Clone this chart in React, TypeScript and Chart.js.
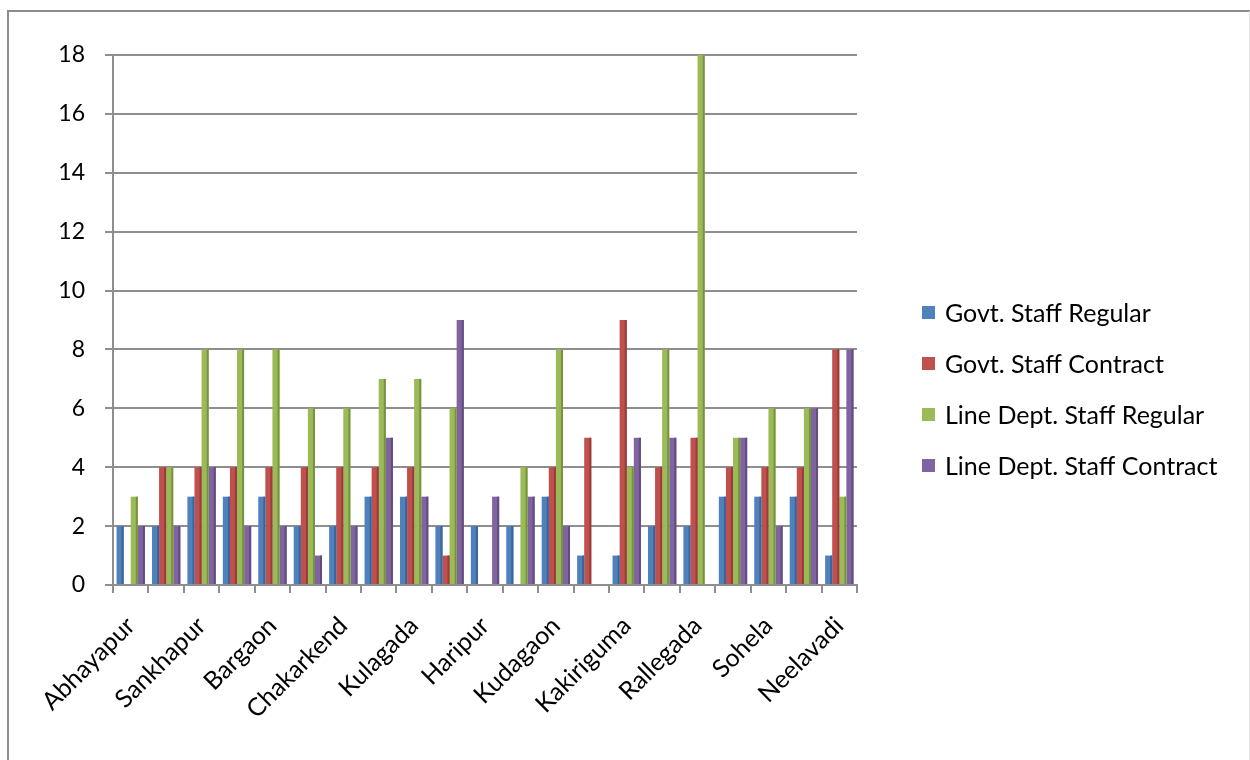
import React, { useEffect, useRef } from "react";
import { Chart, registerables } from "chart.js";

Chart.register(...registerables);

// Villages (every other category carries a printed name)
const villages = [
  "Abhayapur", "", "Sankhapur", "", "Bargaon", "", "Chakarkend", "",
  "Kulagada", "", "Haripur", "", "Kudagaon", "", "Kakiriguma", "",
  "Rallegada", "", "Sohela", "", "Neelavadi",
];

const govtStaffRegular = [2, 2, 3, 3, 3, 2, 2, 3, 3, 2, 2, 2, 3, 1, 1, 2, 2, 3, 3, 3, 1];
const govtStaffContract = [0, 4, 4, 4, 4, 4, 4, 4, 4, 1, 0, 0, 4, 5, 9, 4, 5, 4, 4, 4, 8];
const lineDeptStaffRegular = [3, 4, 8, 8, 8, 6, 6, 7, 7, 6, 0, 4, 8, 0, 4, 8, 18, 5, 6, 6, 3];
const lineDeptStaffContract = [2, 2, 4, 2, 2, 1, 2, 5, 3, 9, 3, 3, 2, 0, 5, 5, 0, 5, 2, 6, 8];

const seriesNames = [
  "Govt. Staff Regular",
  "Govt. Staff Contract",
  "Line Dept. Staff Regular",
  "Line Dept. Staff Contract",
];
const seriesColors = ["#4F81BD", "#C0504D", "#9BBB59", "#8064A2"];
const seriesSideColors = ["#3A6597", "#973D3A", "#78933F", "#624C80"];

const FONT = "Lato, 'Open Sans', sans-serif";
const GRID = "#8E8E8E";

// Darker right-hand face on each bar for a shallow 3-D look
const barSidePlugin = {
  id: "barSide",
  afterDatasetsDraw(chart: any) {
    const ctx = chart.ctx;
    ctx.save();
    chart.data.datasets.forEach((ds: any, di: number) => {
      const meta = chart.getDatasetMeta(di);
      meta.data.forEach((el: any, i: number) => {
        if (!ds.data[i]) return;
        const { x, y, base, width } = el.getProps(["x", "y", "base", "width"], true);
        ctx.fillStyle = seriesSideColors[di];
        ctx.fillRect(x + width / 2 - 2, y, 2, base - y);
      });
    });
    ctx.restore();
  },
};

// Vertical legend to the right of the plot, centred on the canvas height
const sideLegendPlugin = {
  id: "sideLegend",
  afterDraw(chart: any) {
    const ctx = chart.ctx;
    const area = chart.chartArea;
    const datasets = chart.data.datasets;
    const step = 51;
    const box = 13;
    const x0 = area.right + 65;
    const cy = chart.height / 2 + 3;
    const y0 = cy - (step * (datasets.length - 1)) / 2;
    ctx.save();
    ctx.font = `25px ${FONT}`;
    ctx.textBaseline = "middle";
    ctx.textAlign = "left";
    datasets.forEach((ds: any, i: number) => {
      const y = y0 + i * step;
      ctx.fillStyle = ds.backgroundColor;
      ctx.fillRect(x0, y - box / 2, box, box);
      ctx.fillStyle = "#000";
      ctx.fillText(ds.label, x0 + box + 10, y + 1);
    });
    ctx.restore();
  },
};

export default function App() {
  const canvasRef = useRef<HTMLCanvasElement | null>(null);

  useEffect(() => {
    if (!canvasRef.current) return;
    const data = [govtStaffRegular, govtStaffContract, lineDeptStaffRegular, lineDeptStaffContract];
    const chart = new Chart(canvasRef.current, {
      type: "bar",
      data: {
        labels: villages,
        datasets: data.map((values, i) => ({
          label: seriesNames[i],
          data: values,
          backgroundColor: seriesColors[i],
          borderWidth: 0,
          categoryPercentage: 0.8,
          barPercentage: 1.0,
        })),
      },
      options: {
        animation: false,
        responsive: false,
        maintainAspectRatio: false,
        layout: { padding: { top: 43, right: 390, bottom: 0, left: 0 } },
        plugins: {
          tooltip: { enabled: false },
          legend: { display: false },
        },
        scales: {
          x: {
            grid: {
              display: true,
              drawOnChartArea: false,
              drawTicks: true,
              tickLength: 8,
              color: GRID,
              lineWidth: 2,
            },
            border: { display: true, color: GRID, width: 2 },
            ticks: {
              autoSkip: false,
              maxRotation: 45,
              minRotation: 45,
              padding: 18,
              color: "#000",
              font: { family: FONT, size: 25 },
            },
            afterFit: (scale: any) => {
              scale.height = 175;
            },
          },
          y: {
            min: 0,
            max: 18,
            ticks: {
              stepSize: 2,
              padding: 20,
              color: "#000",
              font: { family: FONT, size: 23 },
            },
            grid: {
              color: GRID,
              lineWidth: 2,
              tickLength: 8,
            },
            border: { display: true, color: GRID, width: 2 },
            afterFit: (scale: any) => {
              scale.width = 104;
            },
          },
        },
      },
      plugins: [barSidePlugin, sideLegendPlugin],
    } as any);
    return () => chart.destroy();
  }, []);

  return (
    <div
      style={{
        position: "absolute",
        left: 7,
        top: 10,
        width: 1240,
        height: 770,
        borderTop: "2px solid #8C8C8C",
        borderLeft: "2px solid #8C8C8C",
        borderRight: "1px solid #E2E2E2",
        borderBottom: "2px solid #8C8C8C",
        background: "#fff",
      }}
    >
      <canvas
        ref={canvasRef}
        width={1238}
        height={748}
        style={{ display: "block", width: 1238, height: 748 }}
      />
    </div>
  );
}
